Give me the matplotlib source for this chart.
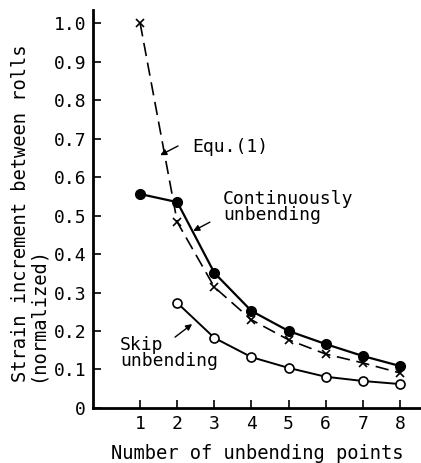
import numpy as np
import matplotlib
matplotlib.use("Agg")
import matplotlib.pyplot as plt

n_points = [1, 2, 3, 4, 5, 6, 7, 8]
equ1 = [1.0, 0.483, 0.314, 0.229, 0.177, 0.140, 0.117, 0.091]
cont_x = [1, 2, 3, 4, 5, 6, 7, 8]
continuous = [0.556, 0.535, 0.351, 0.252, 0.200, 0.166, 0.135, 0.109]
skip_x = [2, 3, 4, 5, 6, 7, 8]
skip = [0.273, 0.182, 0.132, 0.104, 0.081, 0.070, 0.062]

yticks = [0, 0.1, 0.2, 0.3, 0.4, 0.5, 0.6, 0.7, 0.8, 0.9, 1.0]
ytick_labels = ["0", "0.1", "0.2", "0.3", "0.4", "0.5", "0.6", "0.7", "0.8", "0.9", "1.0"]

plt.rcParams["font.family"] = "DejaVu Sans Mono"
plt.rcParams["font.size"] = 13

fig = plt.figure(figsize=(4.21, 4.63), dpi=100)
ax = fig.add_axes([0.221, 0.119, 0.779, 0.859])

ax.plot(n_points, equ1, color="black", lw=1.2, ls=(0, (8, 4)),
        marker="x", ms=6, mew=1.2)
ax.plot(cont_x, continuous, color="black", lw=1.6, marker="o", ms=7,
        mfc="black", mec="black")
ax.plot(skip_x, skip, color="black", lw=1.4, marker="o", ms=6.5,
        mfc="white", mec="black", mew=1.2)

ax.set_xlim(-0.27, 8.57)
ax.set_ylim(0, 1.034)
ax.set_xticks(n_points)
ax.set_yticks(yticks)
ax.set_yticklabels(ytick_labels)

for s in ["top", "right"]:
    ax.spines[s].set_visible(False)
for s in ["left", "bottom"]:
    ax.spines[s].set_linewidth(2)
ax.tick_params(direction="in", length=6, width=1.2, labelsize=13, pad=5)

ax.set_xlabel("Number of unbending points", fontsize=13.5, labelpad=8)
fig.text(0.025, 0.175, "Strain increment between rolls\n(normalized)",
         rotation=90, va="bottom", ha="left", multialignment="left",
         fontsize=13.5, linespacing=0.85)

arrow = dict(arrowstyle="-|>", color="black", lw=1, mutation_scale=9,
             shrinkA=0, shrinkB=0)

ax.text(2.4, 0.678, "Equ.(1)", fontsize=13, va="center")
ax.annotate("", xy=(1.54, 0.657), xytext=(2.02, 0.681), arrowprops=arrow)

ax.text(3.23, 0.523, "Continuously\nunbending", fontsize=13, va="center",
        linespacing=0.85)
ax.annotate("", xy=(2.43, 0.46), xytext=(2.88, 0.483), arrowprops=arrow)

ax.text(0.46, 0.143, "Skip\nunbending", fontsize=13, va="center",
        linespacing=0.85)
ax.annotate("", xy=(2.4, 0.218), xytext=(1.94, 0.184), arrowprops=arrow)

fig.savefig("out.png", dpi=100)
